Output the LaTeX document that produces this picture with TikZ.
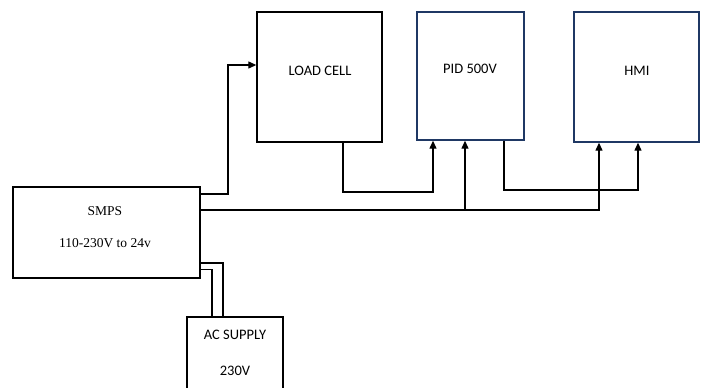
\documentclass[tikz,border=0pt]{standalone}
\usepackage{fontspec}
\setmainfont{Carlito}
\newfontfamily\serifface{Liberation Serif}
\usetikzlibrary{arrows.meta}
\definecolor{navy}{HTML}{1F3864}
\tikzset{
  blk/.style={draw=black, line width=1.4pt, fill=white, inner sep=0pt},
  nblk/.style={draw=navy, line width=1.4pt, fill=white, inner sep=0pt},
  lbl/.style={inner sep=0pt, font=\fontsize{14.5}{16}\selectfont},
  slbl/.style={inner sep=0pt, font=\serifface\fontsize{13.5}{15}\selectfont},
  wire/.style={draw=black, line width=1.3pt},
  arr/.style={wire, -{Triangle[length=8pt,width=7pt]}}
}
\begin{document}
\begin{tikzpicture}[x=1pt,y=-1pt]
\useasboundingbox (0,0) rectangle (705,388);
\begin{scope}
\clip (0,0) rectangle (705,388);
% boxes
\node[blk, minimum width=187pt, minimum height=91pt] (smps) at (106.5,232.5) {};
\node[blk, minimum width=125pt, minimum height=130pt] (lc) at (319.5,77) {};
\node[nblk, minimum width=107pt, minimum height=128pt] (pid) at (470.5,76) {};
\node[nblk, minimum width=125pt, minimum height=130pt] (hmi) at (636.5,77) {};
\node[blk, minimum width=96pt, minimum height=100pt] (ac) at (235,367) {};
\end{scope}
% labels
\node[slbl] (smpsA) at (105,211) {SMPS};
\node[slbl] (smpsB) at (105,243) {110-230V to 24v};
\node[lbl] (lcL) at (320,71) {LOAD CELL};
\node[lbl] (pidL) at (470,69) {PID 500V};
\node[lbl] (hmiL) at (637,71) {HMI};
\node[lbl] (acA) at (235,335) {AC SUPPLY};
\node[lbl] (acB) at (235,371) {230V};
% coordinates
\coordinate (s1) at (smps.east |- 0,194);
\coordinate (s2) at (smps.east |- 0,210);
\coordinate (s3) at (smps.east |- 0,263);
\coordinate (s4) at (smps.east |- 0,269.5);
\coordinate (lcin) at (lc.west |- 0,65);
\coordinate (lcout) at (343,0);
\coordinate (pidin1) at (433,0);
\coordinate (pidin2) at (465,0);
\coordinate (pidout) at (504,0);
\coordinate (hmiin1) at (599,0);
\coordinate (hmiin2) at (638,0);
% connectors
\draw[arr] (s1) -- (228,194) |- (lcin);
\draw[arr] (lc.south -| lcout) |- (433,192) -- (pid.south -| pidin1);
\draw[arr] (s2) -| (hmi.south -| hmiin1);
\draw[arr] (465,210) -- (pid.south -| pidin2);
\draw[arr] (pid.south -| pidout) |- (638,190) -- (hmi.south -| hmiin2);
\draw[wire] (s3) -| (ac.north -| 223,0);
\draw[wire] (s4) -| (ac.north -| 212,0);
\end{tikzpicture}
\end{document}
